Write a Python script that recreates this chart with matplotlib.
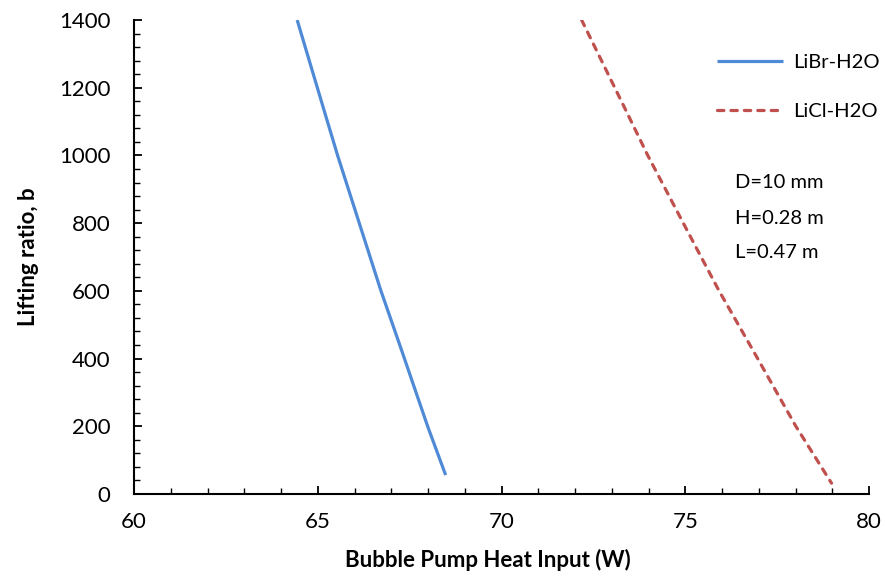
import matplotlib
matplotlib.use("Agg")
import matplotlib.pyplot as plt
from matplotlib.ticker import MultipleLocator

# Data
libr_x = [64.44, 65.17, 65.54, 66.72, 67.28, 67.99, 68.48]
libr_y = [1400, 1134, 1000, 600, 425, 200, 56]
licl_x = [72.18, 73.38, 73.98, 75.33, 75.92, 76.84, 78.01, 78.98]
licl_y = [1400, 1134, 1000, 721, 600, 425, 200, 32]
series_labels = ["LiBr-H2O", "LiCl-H2O"]
info_lines = ["D=10 mm", "H=0.28 m", "L=0.47 m"]
x_label = "Bubble Pump Heat Input (W)"
y_label = "Lifting ratio, b"

plt.rcParams['font.family'] = ['Lato', 'DejaVu Sans']
FS_TICK = 16
FS_LAB = 16
FS_TXT = 14.5

fig = plt.figure(figsize=(8.85, 5.77), dpi=100)
W, H = 885, 577
ax = fig.add_axes([134 / W, (H - 494) / H, (869 - 134) / W, (494 - 20) / H])

ax.plot(libr_x, libr_y, color='#4F8AD6', lw=2.3, solid_capstyle='butt', label=series_labels[0])
ax.plot(licl_x, licl_y, color='#C0504D', lw=2.3, linestyle=(0, (2.0, 2.2)),
        dash_capstyle='round', label=series_labels[1])

ax.set_xlim(60, 80)
ax.set_ylim(0, 1400)
ax.xaxis.set_major_locator(MultipleLocator(5))
ax.xaxis.set_minor_locator(MultipleLocator(1))
ax.yaxis.set_major_locator(MultipleLocator(200))
ax.yaxis.set_minor_locator(MultipleLocator(40))

for s in ['top', 'right']:
    ax.spines[s].set_visible(False)
for s in ['left', 'bottom']:
    ax.spines[s].set_linewidth(1.5)
    ax.spines[s].set_color('black')

ax.tick_params(axis='both', which='major', direction='in', length=5.5, width=1.3, labelsize=FS_TICK)
ax.tick_params(axis='both', which='minor', direction='in', length=4, width=1.0)
ax.tick_params(axis='y', which='major', pad=17)
ax.tick_params(axis='x', which='major', pad=13)

ax.set_xlabel(x_label, fontsize=FS_LAB, fontweight='bold')
ax.xaxis.set_label_coords(0.482, -(560 - 494) / 474)
ax.xaxis.label.set_va('center')
ax.set_ylabel(y_label, fontsize=FS_LAB, fontweight='bold', labelpad=14)

leg = fig.legend(loc='upper left', bbox_to_anchor=(717 / W, 1 - 54 / H), frameon=False,
                 fontsize=FS_TXT, handlelength=3.3, handletextpad=0.5, labelspacing=1.6,
                 borderpad=0, borderaxespad=0)

ys = [183, 219, 252]
for t, yy in zip(info_lines, ys):
    fig.text(735 / W, 1 - yy / H, t, fontsize=FS_TXT, ha='left', va='center')

fig.savefig("out.png", dpi=100)
